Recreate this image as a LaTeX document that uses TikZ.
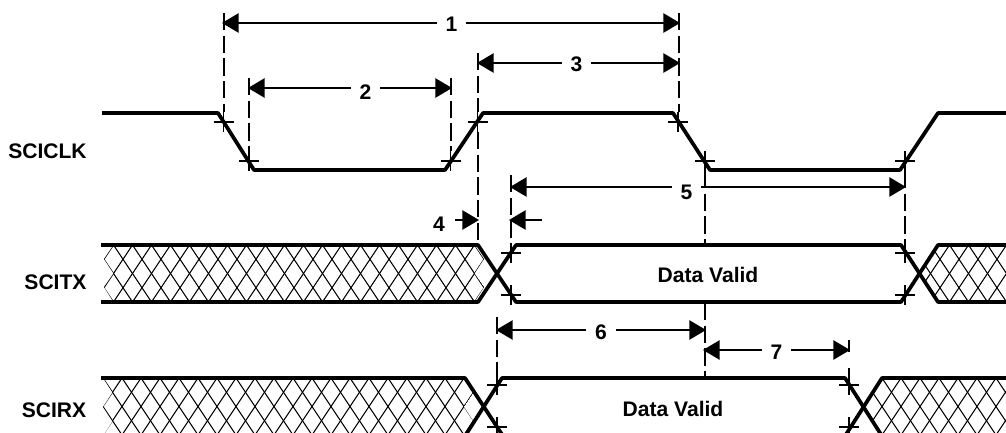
\documentclass[tikz,border=0pt]{standalone}
\usepackage{fontspec}
\setmainfont{Liberation Sans}
\usetikzlibrary{arrows.meta}
\tikzset{
  wave/.style={line width=2.8pt,line join=bevel},
  hatchline/.style={line width=0.8pt},
  guide/.style={line width=1.25pt,dash pattern=on 13pt off 4pt},
  tickline/.style={line width=1.1pt},
  dim/.style={line width=1.25pt,-{Triangle[length=12.5pt,width=14.5pt]}},
  lab/.style={font=\bfseries\fontsize{15.8pt}{17pt}\selectfont,inner sep=0pt},
  num/.style={lab,minimum width=21.5pt,minimum height=12pt},
}
\newcommand{\hatchband}[3]{%
  \begin{scope}
    \clip #1;
    \foreach \k in {-4,...,48} {
      \draw[hatchline] ({#2+19*\k},#3) -- ({#2+19*\k+38},{#3+57});
      \draw[hatchline] ({#2+19*\k+38},#3) -- ({#2+19*\k},{#3+57});
    }
  \end{scope}}
\newcommand{\crossmark}[2]{%
  \draw[tickline] (#1-10,#2) -- (#1+10,#2);
  \draw[tickline] (#1,#2-10) -- (#1,#2+10);}
\begin{document}
\begin{tikzpicture}[x=0.75pt,y=-0.75pt]
\useasboundingbox (0,0) rectangle (1006,432);
% signal names
\node[lab] (sciclk) at (47.5,151) {SCICLK};
\node[lab] (scitx) at (55.5,282) {SCITX};
\node[lab] (scirx) at (54,410) {SCIRX};
\node[lab] (dv1) at (708,275) {Data Valid};
\node[lab] (dv2) at (673,409) {Data Valid};
% hatching
\hatchband{(113.5,245)--(104,259)--(113.5,273.5)--(104,287)--(113.5,302)--(474.5,302)--(484,287)--(474.5,273.5)--(484,259)--(474.5,245)--cycle}{113.5}{245}
\hatchband{(938,245)--(921,273.5)--(938,302)--(1006,302)--(1006,245)--cycle}{113.5}{245}
\hatchband{(103,378)--(112.5,392.5)--(103,407)--(112.5,421.5)--(103,436)--(465,436)--(473.5,421.5)--(464,407)--(473.5,392.5)--(465,378)--cycle}{103}{378}
\hatchband{(882,378)--(864,407)--(882,436)--(1006,436)--(1006,378)--cycle}{103}{378}
% waveforms
\draw[wave] (102,113) -- (218,113) -- (254,170) -- (445,170) -- (483,113) -- (673,113) -- (710,170) -- (900,170) -- (938,113) -- (1006,113);
\draw[wave] (101,245) -- (478,245) -- (516,302) -- (901,302) -- (938,245) -- (1006,245);
\draw[wave] (101,302) -- (478,302) -- (516,245) -- (901,245) -- (938,302) -- (1006,302);
\draw[wave] (101,378) -- (465,378) -- (503,436);
\draw[wave] (465,436) -- (502,378) -- (845,378) -- (882,436);
\draw[wave] (845,436) -- (882,378) -- (1006,378);
% guides
\draw[guide] (224,13) -- (224,112);
\draw[guide] (249,78) -- (249,151);
\draw[guide] (451,78) -- (451,151);
\draw[guide] (478,53) -- (478,112);
\draw[guide] (478,132) -- (478,243);
\draw[guide] (679,13) -- (679,112);
\draw[guide] (705,171) -- (705,244);
\draw[guide] (705,303) -- (705,377);
\draw[guide] (905,171) -- (905,244);
\draw[guide] (511,175) -- (511,243);
\draw[guide] (497,317) -- (497,375);
\draw[tickline] (849,340) -- (849,352);
\draw[tickline] (849,368) -- (849,375);
% crosses
\crossmark{223.5}{122}
\crossmark{249}{161}
\crossmark{450.5}{161}
\crossmark{477.5}{122}
\crossmark{678}{122}
\crossmark{705}{161}
\crossmark{905}{161}
\crossmark{511}{253}
\crossmark{511}{295}
\crossmark{905}{253}
\crossmark{905}{295}
\crossmark{497}{385}
\crossmark{497}{427}
\crossmark{849}{385}
\crossmark{849}{427}
% dimension labels
\node[num] (n1) at (451.5,24) {1};
\node[num] (n2) at (365.5,92) {2};
\node[num] (n3) at (576.5,64) {3};
\node[lab] (n4) at (439,224) {4};
\node[num] (n5) at (686.5,192) {5};
\node[num] (n6) at (601,332) {6};
\node[num] (n7) at (776.5,352) {7};
% dimension ends
\coordinate (a1) at (222,23);  \coordinate (b1) at (680,23);
\coordinate (a2) at (248,88);  \coordinate (b2) at (452,88);
\coordinate (a3) at (477,63);  \coordinate (b3) at (680,63);
\coordinate (t4) at (455,220); \coordinate (b4) at (479,220);
\coordinate (a5) at (510,187); \coordinate (b5) at (906,187);
\coordinate (t5) at (542,220); \coordinate (c5) at (509,220);
\coordinate (a6) at (496,330); \coordinate (b6) at (706,330);
\coordinate (a7) at (703,350); \coordinate (b7) at (850,350);
% dimension arrows
\foreach \i in {1,2,3,5,6,7} {
  \draw[dim] (n\i.west |- a\i) -- (a\i);
  \draw[dim] (n\i.east |- b\i) -- (b\i);
}
\draw[dim] (t4) -- (b4);
\draw[dim] (t5) -- (c5);
\end{tikzpicture}
\end{document}
